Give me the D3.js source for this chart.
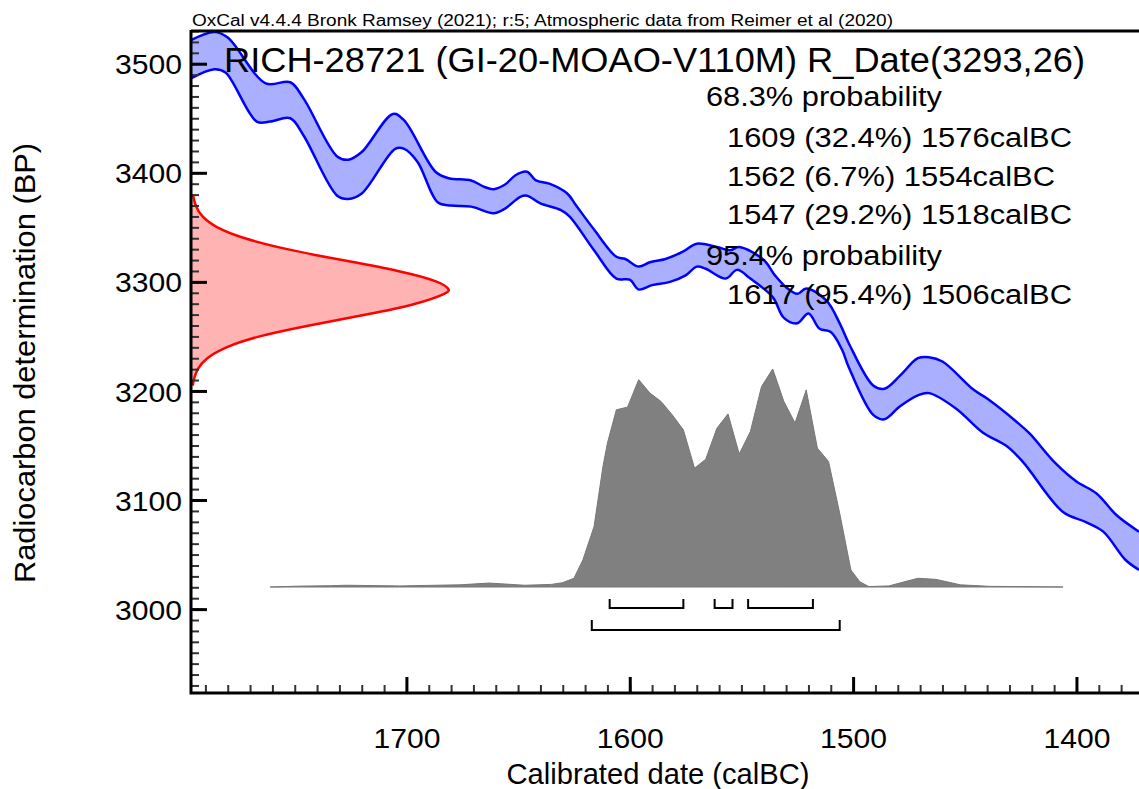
<!DOCTYPE html>
<head>
    <style>
        * { padding: 0; margin: 0; }
        body { background: #fff; }
        svg { display: block; }
        text { font-family: "Liberation Sans", Arial, sans-serif; fill: #000; }
    </style>
    <script src="https://cdn.jsdelivr.net/npm/d3@7/dist/d3.min.js"></script>
</head>

<body>
    <script>

        /////////////////////////////////////////////////////
        // DATA
        /////////////////////////////////////////////////////

        const headerText = "OxCal v4.4.4 Bronk Ramsey (2021); r:5; Atmospheric data from Reimer et al (2020)"
        const titleText = "RICH-28721 (GI-20-MOAO-V110M) R_Date(3293,26)"
        const probLines = [
            { label: "68.3% probability", indent: false },
            { label: "1609 (32.4%) 1576calBC", indent: true },
            { label: "1562 (6.7%) 1554calBC", indent: true },
            { label: "1547 (29.2%) 1518calBC", indent: true },
            { label: "95.4% probability", indent: false },
            { label: "1617 (95.4%) 1506calBC", indent: true }
        ]

        //Calibration curve, upper edge (calBC, BP)
        const curveUpper = [
            [1797, 3521], [1786, 3529], [1780, 3524], [1763, 3482], [1752, 3483], [1746, 3468],
            [1731, 3415], [1726, 3412], [1720, 3419], [1706, 3454], [1701, 3448], [1687, 3401],
            [1681, 3395], [1671, 3393], [1665, 3387], [1661, 3385], [1656, 3389], [1651, 3398],
            [1646, 3401], [1642, 3393], [1636, 3390], [1628, 3381], [1624, 3370], [1616, 3348],
            [1606, 3323], [1602, 3321], [1596, 3314], [1591, 3318], [1584, 3321], [1576, 3328],
            [1570, 3335], [1561, 3332], [1555, 3329], [1551, 3332], [1540, 3320], [1535, 3306],
            [1530, 3295], [1525, 3289], [1521, 3294], [1512, 3283], [1506, 3262], [1502, 3244],
            [1491, 3205], [1486, 3202], [1479, 3214], [1471, 3230], [1466, 3231], [1460, 3227],
            [1446, 3201], [1440, 3193], [1427, 3172], [1421, 3161], [1410, 3135], [1400, 3117],
            [1391, 3106], [1382, 3086], [1372, 3071]
        ]

        //Calibration curve, lower edge (calBC, BP)
        const curveLower = [
            [1797, 3486], [1786, 3495], [1781, 3492], [1767, 3447], [1761, 3447], [1752, 3450],
            [1746, 3434], [1731, 3379], [1726, 3376], [1720, 3381], [1705, 3422], [1701, 3422],
            [1695, 3410], [1686, 3373], [1680, 3370], [1671, 3369], [1661, 3363], [1656, 3367],
            [1649, 3378], [1646, 3379], [1640, 3372], [1631, 3366], [1627, 3360], [1616, 3329],
            [1606, 3303], [1600, 3302], [1596, 3293], [1590, 3297], [1582, 3300], [1575, 3306],
            [1570, 3314], [1566, 3312], [1557, 3303], [1552, 3311], [1546, 3303], [1536, 3286],
            [1531, 3267], [1525, 3262], [1520, 3271], [1515, 3257], [1510, 3254], [1505, 3238],
            [1502, 3222], [1491, 3178], [1486, 3174], [1479, 3186], [1471, 3196], [1466, 3198],
            [1454, 3184], [1442, 3162], [1431, 3149], [1424, 3135], [1406, 3089], [1396, 3080],
            [1388, 3071], [1378, 3045], [1372, 3036]
        ]

        //Radiocarbon determination (BP, relative probability)
        const rdateBP = [3380, 3370, 3360, 3350, 3340, 3330, 3320, 3310, 3300, 3293, 3290,
            3280, 3270, 3260, 3250, 3240, 3230, 3220, 3210, 3205]
        const rdateProb = [0.004, 0.012, 0.036, 0.09, 0.195, 0.36, 0.58, 0.81, 0.965, 1, 0.993,
            0.88, 0.68, 0.45, 0.25, 0.125, 0.053, 0.019, 0.006, 0.003]

        //Calibrated date (calBC, relative probability)
        const calYears = [1761, 1748, 1734, 1727, 1703, 1676, 1663, 1647, 1635, 1630, 1625, 1621, 1616,
            1612, 1610, 1606, 1601, 1596, 1591, 1586, 1581, 1576, 1571, 1566, 1561, 1556, 1551,
            1546, 1541, 1536, 1531, 1526, 1521, 1516, 1511, 1506, 1501, 1497, 1493, 1484, 1471,
            1463, 1452, 1439, 1406]
        const calProb = [0, 0.004, 0.006, 0.008, 0.005, 0.01, 0.018, 0.008, 0.012, 0.02, 0.04, 0.124, 0.277,
            0.553, 0.66, 0.813, 0.825, 0.951, 0.89, 0.851, 0.79, 0.721, 0.545, 0.586, 0.728, 0.794, 0.61,
            0.713, 0.92, 1, 0.851, 0.752, 0.904, 0.637, 0.576, 0.338, 0.078, 0.024, 0.002, 0.005, 0.04,
            0.035, 0.01, 0.003, 0]

        //Highest probability density ranges (calBC)
        const ranges68 = [[1609, 1576], [1562, 1554], [1547, 1518]]
        const ranges95 = [[1617, 1506]]

        const yMajor = [3000, 3100, 3200, 3300, 3400, 3500]
        const xMajor = [1700, 1600, 1500, 1400]

        /////////////////////////////////////////////////////
        // SETUP
        /////////////////////////////////////////////////////

        const width = 1139
        const height = 789
        const mLeft = 192, mRight = 1139, mTop = 31, mBottom = 692

        const svg = d3.select("body").append("svg")
            .attr("width", width)
            .attr("height", height)

        const x = d3.scaleLinear().domain([1796, 1372]).range([mLeft, mRight])
        const y = d3.scaleLinear().domain([2924, 3530]).range([mBottom, mTop])

        //Scales for the two probability curves
        const rdateW = d3.scaleLinear().domain([0, 1]).range([mLeft, 450])
        const calH = d3.scaleLinear().domain([0, 1]).range([587, 369])

        svg.append("clipPath").attr("id", "plotClip")
            .append("rect")
            .attr("x", mLeft).attr("y", mTop)
            .attr("width", mRight - mLeft).attr("height", mBottom - mTop)

        const plot = svg.append("g").attr("clip-path", "url(#plotClip)")

        /////////////////////////////////////////////////////
        // CALIBRATION CURVE
        /////////////////////////////////////////////////////

        const line = d3.line().x(d => x(d[0])).y(d => y(d[1])).curve(d3.curveCatmullRom.alpha(0.5))

        //Band fill: upper edge forwards, lower edge backwards
        plot.append("path")
            .attr("d", line(curveUpper) + "L" + line(curveLower.slice().reverse()).slice(1) + "Z")
            .attr("fill", "#aab0ff")

        ;[curveUpper, curveLower].forEach(c => {
            plot.append("path")
                .attr("d", line(c))
                .attr("fill", "none")
                .attr("stroke", "#0000ff")
                .attr("stroke-width", 2.5)
                .attr("stroke-linejoin", "round")
        })

        /////////////////////////////////////////////////////
        // RADIOCARBON DETERMINATION (RED)
        /////////////////////////////////////////////////////

        const rdate = rdateBP.map((d, i) => ({ bp: d, p: rdateProb[i] }))

        plot.append("path")
            .datum(rdate)
            .attr("d", d3.area().curve(d3.curveBasis)
                .y(d => y(d.bp)).x0(mLeft).x1(d => rdateW(d.p)))
            .attr("fill", "#ffb3b3")

        plot.append("path")
            .datum(rdate)
            .attr("d", d3.line().curve(d3.curveBasis)
                .y(d => y(d.bp)).x(d => rdateW(d.p)))
            .attr("fill", "none")
            .attr("stroke", "#ff0000")
            .attr("stroke-width", 2.5)

        /////////////////////////////////////////////////////
        // CALIBRATED DISTRIBUTION (GREY)
        /////////////////////////////////////////////////////

        const cal = calYears.map((d, i) => ({ year: d, p: calProb[i] }))

        plot.append("path")
            .datum(cal)
            .attr("d", d3.area()
                .x(d => x(d.year)).y0(calH(0)).y1(d => calH(d.p)))
            .attr("fill", "#808080")
            .attr("stroke", "#777")
            .attr("stroke-width", 1)
            .attr("stroke-linejoin", "round")

        //Range brackets
        function bracket(r, yLine, yTop) {
            return `M${x(r[0])},${yTop}V${yLine}H${x(r[1])}V${yTop}`
        }
        svg.selectAll(".r68").data(ranges68).join("path")
            .attr("d", d => bracket(d, 608, 599))
            .attr("fill", "none").attr("stroke", "#000").attr("stroke-width", 2)
        svg.selectAll(".r95").data(ranges95).join("path")
            .attr("d", d => bracket(d, 630, 620))
            .attr("fill", "none").attr("stroke", "#000").attr("stroke-width", 2)

        /////////////////////////////////////////////////////
        // AXES
        /////////////////////////////////////////////////////

        const yAxis = d3.axisLeft(y).tickValues(yMajor).tickSizeInner(-15).tickSizeOuter(0)
            .tickPadding(10).tickFormat(d3.format("d"))
        const yMinor = d3.axisLeft(y).tickValues(d3.range(2930, 3531, 10)).tickSizeInner(-7)
            .tickSizeOuter(0).tickFormat("")
        const xAxis = d3.axisBottom(x).tickValues(xMajor).tickSizeInner(-15).tickSizeOuter(0)
            .tickPadding(36).tickFormat(d3.format("d"))
        const xMinor = d3.axisBottom(x).tickValues(d3.range(1790, 1371, -10)).tickSizeInner(-7)
            .tickSizeOuter(0).tickFormat("")

        const gyMinor = svg.append("g").attr("transform", `translate(${mLeft},0)`).call(yMinor)
        const gy = svg.append("g").attr("transform", `translate(${mLeft},0)`).call(yAxis)
        const gxMinor = svg.append("g").attr("transform", `translate(0,${mBottom})`).call(xMinor)
        const gx = svg.append("g").attr("transform", `translate(0,${mBottom})`).call(xAxis)

        ;[gy, gyMinor, gx, gxMinor].forEach(g => g.select(".domain").remove())
        ;[gyMinor, gxMinor].forEach(g => g.selectAll("line").attr("stroke", "#333").attr("stroke-width", 2))
        ;[gy, gx].forEach(g => g.selectAll("line").attr("stroke", "#000").attr("stroke-width", 3))

        gy.selectAll("text")
            .style("font-size", "28px")
            .attr("dy", "0.36em")
            .attr("textLength", 67).attr("lengthAdjust", "spacingAndGlyphs")
        gx.selectAll("text")
            .style("font-size", "28px")
            .attr("textLength", 67).attr("lengthAdjust", "spacingAndGlyphs")

        //Frame lines
        svg.append("path")
            .attr("d", `M${mLeft - 1},${mTop}H${mRight}M${mLeft - 1},${mTop - 1}V${mBottom + 1}H${mRight}`)
            .attr("fill", "none")
            .attr("stroke", "#000")
            .attr("stroke-width", 3)

        /////////////////////////////////////////////////////
        // TEXTS
        /////////////////////////////////////////////////////

        svg.append("text")
            .attr("x", 192).attr("y", 26)
            .style("font-size", "16px")
            .attr("textLength", 701).attr("lengthAdjust", "spacingAndGlyphs")
            .text(headerText)

        svg.append("text")
            .attr("x", 224).attr("y", 72)
            .style("font-size", "35px")
            .attr("textLength", 861).attr("lengthAdjust", "spacingAndGlyphs")
            .text(titleText)

        const probBase = [106, 147, 186, 224, 265, 304]
        const probLen = [236, 345, 328, 345, 236, 345]
        svg.selectAll(".prob").data(probLines).join("text")
            .attr("class", "prob")
            .attr("x", d => d.indent ? 727 : 706)
            .attr("y", (d, i) => probBase[i])
            .style("font-size", "27px")
            .attr("textLength", (d, i) => probLen[i]).attr("lengthAdjust", "spacingAndGlyphs")
            .text(d => d.label)

        svg.append("text")
            .attr("transform", "translate(35,363) rotate(-90)")
            .attr("text-anchor", "middle")
            .style("font-size", "29px")
            .attr("textLength", 440).attr("lengthAdjust", "spacingAndGlyphs")
            .text("Radiocarbon determination (BP)")

        svg.append("text")
            .attr("x", 658).attr("y", 784)
            .attr("text-anchor", "middle")
            .style("font-size", "29px")
            .attr("textLength", 303).attr("lengthAdjust", "spacingAndGlyphs")
            .text("Calibrated date (calBC)")

    </script>
</body>
